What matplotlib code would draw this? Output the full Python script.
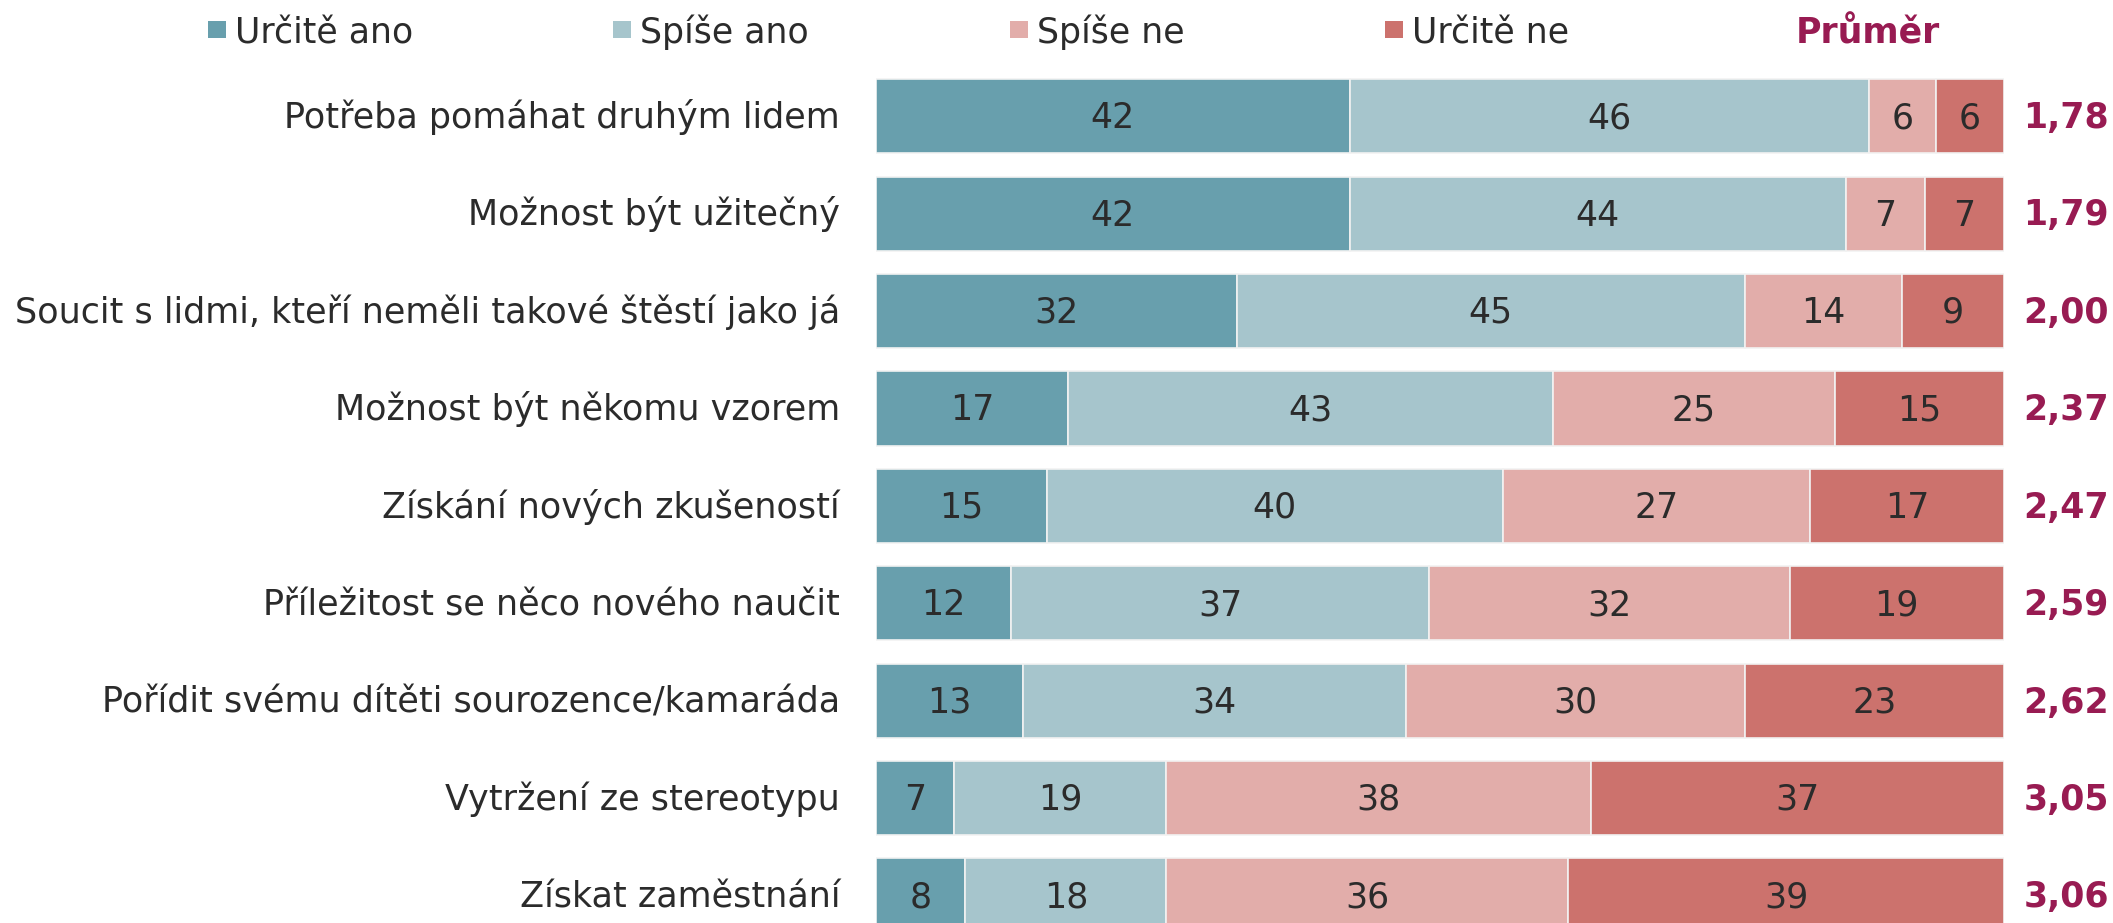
import numpy as np
import matplotlib.pyplot as plt
import matplotlib.transforms as mtransforms
from matplotlib.patches import Rectangle

# ==================== Data ====================
categories = [
    "Potřeba pomáhat druhým lidem",
    "Možnost být užitečný",
    "Soucit s lidmi, kteří neměli takové štěstí jako já",
    "Možnost být někomu vzorem",
    "Získání nových zkušeností",
    "Příležitost se něco nového naučit",
    "Pořídit svému dítěti sourozence/kamaráda",
    "Vytržení ze stereotypu",
    "Získat zaměstnání",
]
series_names = ["Určitě ano", "Spíše ano", "Spíše ne", "Určitě ne"]
urcite_ano = [42, 42, 32, 17, 15, 12, 13, 7, 8]
spise_ano = [46, 44, 45, 43, 40, 37, 34, 19, 18]
spise_ne = [6, 7, 14, 25, 27, 32, 30, 38, 36]
urcite_ne = [6, 7, 9, 15, 17, 19, 23, 37, 39]
prumer = ["1,78", "1,79", "2,00", "2,37", "2,47", "2,59", "2,62", "3,05", "3,06"]
mean_title = "Průměr"

# ==================== Style ====================
COLORS = ["#689fad", "#a6c5cc", "#e2adaa", "#cc726d"]
MEAN_COLOR = "#981b52"
TEXT_COLOR = "#2b2b2b"
FONT = "DejaVu Sans"
FS = 25
plt.rcParams["font.family"] = FONT

W, H = 2113, 923
fig = plt.figure(figsize=(W / 100, H / 100), dpi=100)

# bar area in pixels
x0, x1 = 876, 2004
row0, pitch = 116.3, 97.4
base_off = 11.8 / pitch  # baseline offset below row centre (data units)
ax = fig.add_axes([x0 / W, 0, (x1 - x0) / W, 1])
ax.set_xlim(0, 100)
ax.set_ylim((H - row0) / pitch, -row0 / pitch)
ax.axis("off")

vals = np.array([urcite_ano, spise_ano, spise_ne, urcite_ne], dtype=float)
shares = vals / vals.sum(axis=0) * 100
ypos = np.arange(len(categories))

left = np.zeros(len(categories))
for k in range(4):
    ax.barh(ypos, shares[k], left=left, height=0.76, color=COLORS[k],
            edgecolor="#f2f2f2", linewidth=1.2)
    for i in range(len(categories)):
        ax.text(left[i] + shares[k][i] / 2, ypos[i] + base_off,
                f"{int(vals[k][i])}", ha="center", va="baseline",
                fontsize=FS, color=TEXT_COLOR)
    left += shares[k]

trans = mtransforms.blended_transform_factory(ax.transAxes, ax.transData)
for i, cat in enumerate(categories):
    ax.text(-36 / (x1 - x0), ypos[i] + base_off, cat, transform=trans,
            ha="right", va="baseline", fontsize=25.2, color=TEXT_COLOR)
    ax.text((2066 - x0) / (x1 - x0), ypos[i] + base_off, prumer[i],
            transform=trans, ha="center", va="baseline", fontsize=FS,
            fontweight="bold", color=MEAN_COLOR)

# legend drawn by hand across the top
leg_base = 1 - 43 / H
sq_x = [208, 613, 1010, 1385]
for k, name in enumerate(series_names):
    fig.patches.append(Rectangle((sq_x[k] / W, 1 - 38 / H), 18 / W, 17 / H,
                                 transform=fig.transFigure,
                                 facecolor=COLORS[k], edgecolor="none"))
    fig.text((sq_x[k] + 27) / W, leg_base, name, ha="left", va="baseline",
             fontsize=FS, color=TEXT_COLOR)
fig.text(1868 / W, leg_base, mean_title, ha="center", va="baseline",
         fontsize=FS, fontweight="bold", color=MEAN_COLOR)

fig.savefig("out.png", dpi=100)
